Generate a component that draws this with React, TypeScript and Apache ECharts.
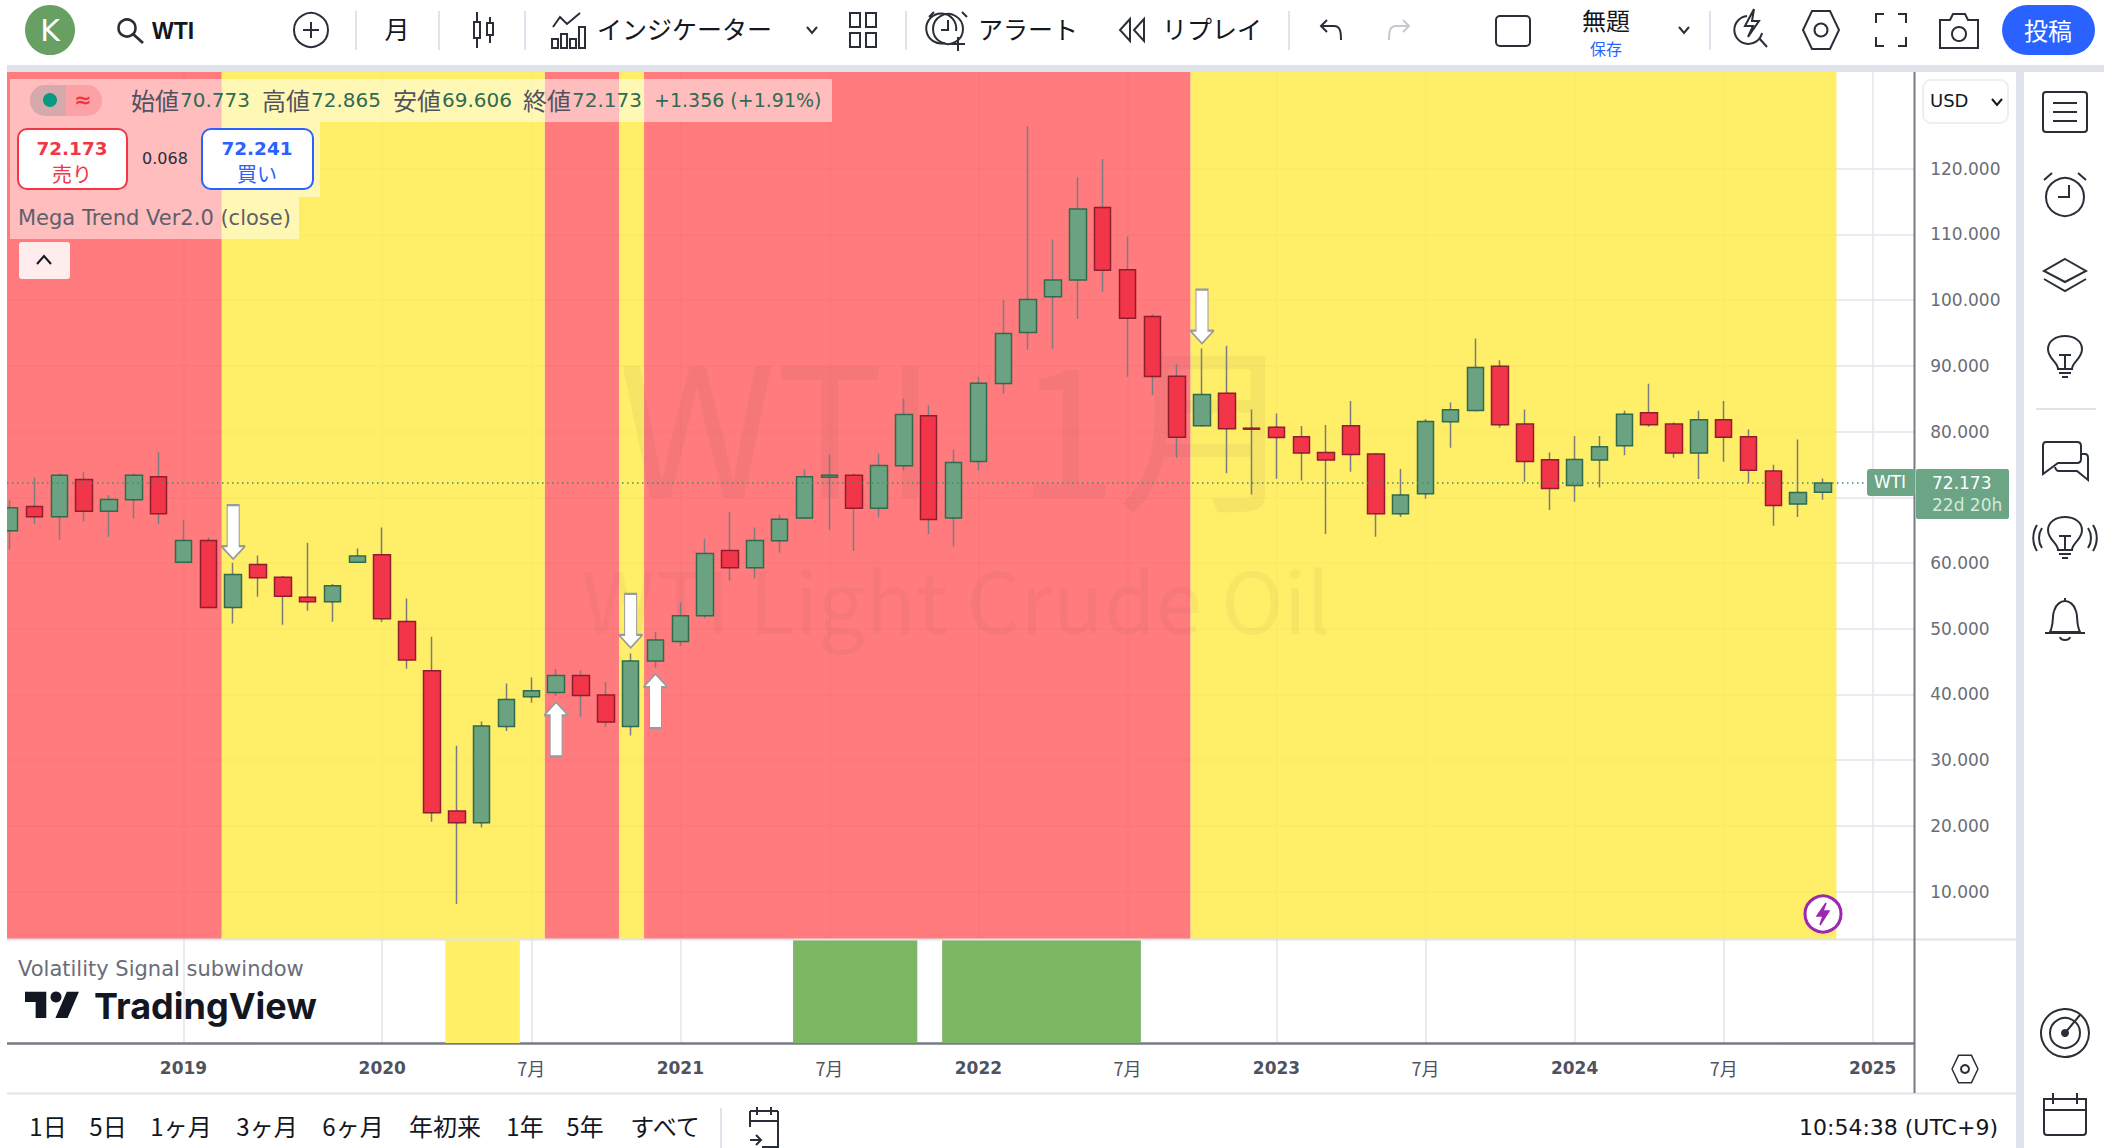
import React, { useEffect, useRef } from "react";
import * as echarts from "echarts";

// ---------- data ----------
const opens = [64.9,68.6,67.03,72.71,67.89,69.62,73.11,60.13,63.43,53.24,59.78,57.85,54.81,54.1,60.13,61.25,51.11,43.6,22.26,20.49,35.14,39.65,40.31,42.9,39.91,35.14,45.08,48.07,51.97,61.91,59.27,63.38,66.83,73.06,73.37,68.35,74.79,82.39,66.83,75.44,87.31,95.06,100.49,103.07,114.08,104.6,97.5,88.42,80.87,85.84,80.51,80.67,79.2,76.82,80.88,76.57,67.49,70.54,81.49,83.21,89.95,81.13,75.71,71.8,75.66,77.83,82.85,81.13,76.72,81.79,79.2,73.98,68.96,70.773];
const closes = [68.4,67.03,73.37,67.89,69.67,73.37,67.49,63.43,53.24,58.26,57.75,54.96,54.1,56.54,61.05,51.52,45.23,22.01,20.49,35.19,39.25,40.56,42.9,39.86,35.8,45.08,48.27,51.97,61.45,59.27,63.43,66.67,73.11,73.37,68.35,74.84,82.59,66.62,75.29,87.36,94.91,100.08,103.07,113.87,104.54,97.24,88.37,79.15,85.63,80.41,80.36,79.1,76.72,75.66,76.52,67.49,70.33,81.54,83.31,89.75,81.03,75.45,71.35,75.76,77.68,82.65,81.03,76.72,81.79,79.15,74.13,68.76,70.74,72.173];
const lows = [62.06,65.9,63.58,66.37,63.99,66.78,65.91,60.13,53.24,50.81,54.86,50.6,52.73,51.06,60.13,51.01,43.91,20.64,8.12,19.78,34.43,38.74,39.81,36.61,35.09,33.77,44.11,47.36,51.6,57.29,57.7,61.6,66.83,65.05,61.81,66.98,74.13,64.39,62.47,74.08,85.74,92.43,92.63,97.14,101.25,88.32,85.53,76.0,80.87,73.67,70.43,72.81,72.56,64.4,73.88,63.99,66.99,69.77,77.53,83.21,80.57,72.36,68.05,69.32,71.5,76.41,80.72,76.01,72.77,75.4,72.21,65.67,66.99,69.606];
const highs = [69.56,73.0,73.62,73.82,70.33,73.62,76.87,66.52,63.89,60.03,61.15,58.01,63.08,56.8,62.21,65.41,54.61,48.78,32.2,35.9,41.68,42.59,43.86,43.66,41.88,46.24,49.49,54.0,63.68,67.79,65.41,67.33,74.28,76.46,73.62,76.66,85.03,84.01,77.27,88.32,99.98,126.45,109.21,118.69,121.48,109.67,97.8,90.25,92.63,93.04,83.35,82.75,80.83,80.98,84.63,76.62,74.29,81.89,84.43,94.16,90.86,83.36,76.82,79.31,79.31,83.16,87.26,81.38,83.16,84.63,80.32,74.95,78.8,72.865];

const priceTicks = [120,110,100,90,80,70,60,50,40,30,20,10];
const priceLabels = priceTicks.filter((v) => v !== 70);
const timeTickIndex = [7,15,21,27,33,39,45,51,57,63,69,75];
const timeTickLabel = ["2019","2020","7月","2021","7月","2022","7月","2023","7月","2024","7月","2025"];
const lastPrice = 72.173;

// regime colouring, as [first bar, last bar]
const redBars = [[-1,8],[22,24],[26,47]];
const yellowBars = [[9,21],[25,25],[48,73]];
const signalYellowBars = [[18,20]];
const signalGreenBars = [[32,36],[38,45]];

// signal arrows: [bar, price at arrow centre]
const sellArrows = [[9,64.7],[25,51.2],[48,97.5]];
const buyArrows = [[22,34.7],[26,39.0]];

const timeframes = [["1日",48],["5日",108],["1ヶ月",181],["3ヶ月",267],["6ヶ月",353],["年初来",445],["1年",525],["5年",585],["すべて",665]];

// ---------- helpers ----------
const X_MIN = -0.105, X_MAX = 76.67;
const JP = '"Noto Sans CJK JP", sans-serif';
const LAT = '"DejaVu Sans", sans-serif';
const INK = "#2a2e39";

const paths: Record<string, string> = {
  candles: "M-9,-8 h6 v16 h-6 z M-6,-18 v10 M-6,8 v10 M4,-7 h6 v12 h-6 z M7,-13 v6 M7,5 v8",
  indic: "M-15,-3 L-8,-13 L-1,-6 L12,-17 M-16,18 v-9 h6 v9 z M-7,18 v-14 h6 v14 z M2,18 v-9 h6 v9 z M11,18 v-21 h6 v21 z",
  chev: "M-5,-3 L0,3 L5,-3",
  grid4: "M-13,-17 h10 v14 h-10 z M3,-17 h10 v14 h-10 z M-13,3 h10 v14 h-10 z M3,3 h10 v14 h-10 z",
  alarm: "M-14,-17 L-19,-12 M14,-17 L19,-12 M0,-9 V1 H-7 M8,2 A15,15 0 1 0 -3,14 M10,8 V22 M3,15 H17",
  replay: "M-3,-11 L-13,0 L-3,11 Z M11,-11 L1,0 L11,11 Z",
  undo: "M-4,-10 L-10,-4 L-4,2 M-10,-4 H3 C9,-4 10,1 10,10",
  redo: "M4,-10 L10,-4 L4,2 M10,-4 H-3 C-9,-4 -10,1 -10,10",
  snap: "M-3,-13 A14,14 0 1 0 12,4 M9,9 L17,18 M4,-20 L-5,-3 H3 L-2,8 L9,-8 H2 Z",
  hex: "M-9,-19 H9 L18,0 L9,19 H-9 L-18,0 Z",
  full: "M-15,-7 V-16 H-7 M7,-16 H15 V-7 M15,7 V16 H7 M-7,16 H-15 V7",
  camera: "M-19,-11 H-9 L-6,-17 H6 L9,-11 H19 V17 H-19 Z",
  list: "M-19,-20 H19 Q22,-20 22,-17 V17 Q22,20 19,20 H-19 Q-22,20 -22,17 V-17 Q-22,-20 -19,-20 Z M-12,-9 H12 M-12,0 H12 M-12,9 H12",
  clock: "M-13,-21 L-21,-14 M13,-21 L21,-14 M4,-9 V3 H-7",
  layers: "M0,-17 L21,-5 L0,6 L-21,-5 Z M-21,3 L0,15 L21,3",
  bulb: "M-7,12 C-7,5 -17,2 -17,-8 C-17,-16 -9,-21 0,-21 C9,-21 17,-16 17,-8 C17,2 7,5 7,12 Z M-6,16 H6 M-3,20 H3 M0,12 V-2 M-6,-2 H6",
  waves: "M-23,-10 C-27,-4 -27,4 -23,10 M-28,-13 C-33,-5 -33,5 -28,13 M23,-10 C27,-4 27,4 23,10 M28,-13 C33,-5 33,5 28,13",
  chat: "M-19,-20 H12 Q16,-20 16,-16 V-3 Q16,1 12,1 H-7 L-22,12 V-16 Q-22,-20 -19,-20 Z M16,-8 H20 Q23,-8 23,-4 V18 L12,9 H-6 Q-9,9 -10,5",
  bell: "M-15,13 C-11,5 -13,-3 -11,-8 C-9,-15 -4,-18 0,-18 C4,-18 9,-15 11,-8 C13,-3 11,5 15,13 Z M-20,14 H20 M-5,18 C-4,22 4,22 5,18 M0,-18 V-21",
  radar: "M0,0 L15,-18",
  calendar: "M-21,-14 H21 V19 Q21,22 18,22 H-18 Q-21,22 -21,19 Z M-21,-3 H21 M-12,-20 V-9 M12,-20 V-9",
  calgo: "M-14,-16 H14 M-14,-6 H14 M-7,-20 V-12 M7,-20 V-12 M-14,-16 V0 M14,-16 V20 H-2 M-14,13 H-4 M-8,8 L-3,13 L-8,18",
  bolt: "M3,-11 L-6,2 H0 L-3,11 L6,-3 H0 Z",
  up: "M-7,4 L0,-4 L7,4",
  tvT: "M14,22 H7 V11 H0 V4 H14 Z M28,22 H20 L27.5,4 H35.5 Z",
};
Object.keys(paths).forEach((k) => {
  echarts.graphic.registerShape("i_" + k, echarts.graphic.extendPath(paths[k], {}));
});

const icon = (k: string, x: number, y: number, stroke = INK, lineWidth = 2, fill = "none", z = 60) => ({
  type: "i_" + k, x, y, z, silent: true, style: { stroke, lineWidth, fill },
});
const txt = (x: number, y: number, text: string, size: number, fill: string, o: any = {}) => ({
  type: "text", x, y, z: o.z ?? 60, silent: true,
  style: {
    text, fontSize: size, fontFamily: o.family ?? JP, fontWeight: o.weight ?? "normal",
    fill, align: o.align ?? "left", verticalAlign: "middle",
  },
});
const box = (x: number, y: number, w: number, h: number, fill: string, o: any = {}) => ({
  type: "rect", z: o.z ?? 55, silent: true,
  shape: { x, y, width: w, height: h, r: o.r ?? 0 },
  style: { fill, stroke: o.stroke, lineWidth: o.lineWidth ?? 0 },
});
const seg = (x1: number, y1: number, x2: number, y2: number, stroke: string, lineWidth = 1, z = 45) => ({
  type: "line", z, silent: true, shape: { x1, y1, x2, y2 }, style: { stroke, lineWidth },
});
const ring = (cx: number, cy: number, r: number, stroke = INK, lineWidth = 2, fill = "none", z = 60) => ({
  type: "circle", z, silent: true, shape: { cx, cy, r }, style: { stroke, lineWidth, fill },
});
const range = (rs: number[][], color: string, opacity: number) =>
  rs.map(([a, b]) => [
    { xAxis: a < 0 ? X_MIN : a - 0.46, itemStyle: { color, opacity } },
    { xAxis: b + 0.54 },
  ]);

const ARROW_DOWN = "path://M6,0 H18 V41 H24 L12,54 L0,41 H6 Z";
const ARROW_UP = "path://M12,0 L24,13 H18 V54 H6 V13 H0 Z";

export default function App() {
  const ref = useRef<HTMLDivElement>(null);
  useEffect(() => {
    document.body.style.margin = "0";
    document.body.style.background = "#ffffff";
    const chart = echarts.init(ref.current!, null, { renderer: "svg" });
    const GUT = "#e0e3eb";
    const idx = opens.map((_, i) => i);
    const full = idx.map((i) => [i, opens[i], closes[i], lows[i], highs[i]]);
    const bodies = idx.map((i) => [i, opens[i], closes[i], Math.min(opens[i], closes[i]), Math.max(opens[i], closes[i])]);
    const xBase = {
      type: "value", min: X_MIN, max: X_MAX, scale: true,
      axisTick: { show: false, customValues: timeTickIndex },
      splitLine: { show: true, lineStyle: { color: "#e3e5eb", width: 1.5 } },
    };
    const elements: any[] = [
      // watermark between the regime colours and the candles
      txt(618, 419, "WTI  1月", 180, "rgba(60,55,70,0.05)", { z: 1.5 }),
      txt(956, 597, "WTI Light Crude Oil", 84, "rgba(60,55,70,0.04)", { align: "center", z: 1.5 }),
      // frame
      box(0, 65, 2104, 7, GUT, { z: 40 }),
      box(0, 65, 7, 1083, "#ffffff", { z: 40 }),
      box(2016, 65, 8, 1083, GUT, { z: 40 }),
      seg(7, 939.5, 2016, 939.5, GUT, 2),
      seg(7, 1093.5, 2016, 1093.5, GUT, 2),
      seg(1914.5, 72, 1914.5, 1093, "#787b86", 2),
      // top toolbar
      ring(50, 30, 25, "#689f63", 0, "#689f63"),
      txt(50, 30, "K", 30, "#ffffff", { align: "center", family: LAT }),
      ring(127, 28, 8.5, INK, 2.6), seg(133, 34, 143, 43, INK, 2.8, 60),
      txt(152, 31, "WTI", 23, "#131722", { family: '"Liberation Sans"', weight: "bold" }),
      ring(311, 30, 17), seg(303, 30, 319, 30, INK, 2, 60), seg(311, 22, 311, 38, INK, 2, 60),
      seg(356, 11, 356, 50, GUT, 2), seg(439, 11, 439, 50, GUT, 2), seg(525, 11, 525, 50, GUT, 2),
      seg(906, 11, 906, 50, GUT, 2), seg(1289, 11, 1289, 50, GUT, 2), seg(1710, 11, 1710, 50, GUT, 2),
      txt(397, 28, "月", 25, "#131722", { align: "center" }),
      icon("candles", 483, 30), icon("indic", 568, 30),
      txt(597, 28, "インジケーター", 25, "#131722"),
      icon("chev", 812, 30), icon("grid4", 863, 30),
      icon("alarm", 948, 29), ring(948, 29, 15),
      txt(978, 28, "アラート", 25, "#131722"),
      icon("replay", 1133, 30),
      txt(1162, 28, "リプレイ", 25, "#131722"),
      icon("undo", 1331, 30), icon("redo", 1399, 30, "#c5c8d0"),
      box(1496, 16, 34, 30, "none", { z: 60, stroke: INK, lineWidth: 2, r: 4 }),
      txt(1606, 19, "無題", 24, "#131722", { align: "center" }),
      txt(1606, 48, "保存", 16, "#2962ff", { align: "center" }),
      icon("chev", 1684, 30),
      icon("snap", 1750, 29), icon("hex", 1821, 30), ring(1821, 30, 6.5),
      icon("full", 1891, 30), icon("camera", 1959, 31), ring(1959, 34, 7),
      box(2002, 5, 93, 50, "#2962ff", { r: 25 }),
      txt(2048, 29, "投稿", 24, "#ffffff", { align: "center" }),
      // legend overlays
      box(10, 79, 822, 43, "rgba(255,255,255,0.5)"),
      box(10, 122, 310, 75, "rgba(255,255,255,0.5)"),
      box(10, 197, 289, 42, "rgba(255,255,255,0.5)"),
      box(30, 85, 36, 31, "rgba(120,123,134,0.3)", { r: [15, 0, 0, 15] }),
      box(66, 85, 36, 31, "rgba(242,54,69,0.2)", { r: [0, 15, 15, 0] }),
      ring(50, 100, 7, "#089981", 0, "#089981"),
      txt(83, 100, "≈", 21, "#f23645", { align: "center", family: LAT, weight: "bold" }),
      ...[["始値", 131, "70.773", 180], ["高値", 262, "72.865", 311], ["安値", 393, "69.606", 442], ["終値", 523, "72.173", 572]].flatMap(
        ([l, lx, v, vx]: any) => [
          txt(lx, 99, l, 24, "#50535e"),
          txt(vx, 100, v, 20, "#2e6b52", { family: LAT }),
        ]
      ),
      txt(654, 100, "+1.356 (+1.91%)", 19, "#2e6b52", { family: LAT }),
      box(18, 129, 109, 60, "#ffffff", { stroke: "#f23645", lineWidth: 2, r: 9 }),
      txt(72, 148, "72.173", 18.4, "#f23645", { align: "center", family: LAT, weight: "bold" }),
      txt(72, 173, "売り", 20, "#f23645", { align: "center" }),
      txt(165, 158, "0.068", 16, "#2a2e39", { align: "center", family: LAT }),
      box(202, 129, 111, 60, "#ffffff", { stroke: "#2962ff", lineWidth: 2, r: 9 }),
      txt(257, 148, "72.241", 18.4, "#2962ff", { align: "center", family: LAT, weight: "bold" }),
      txt(257, 173, "買い", 20, "#2962ff", { align: "center" }),
      txt(18, 218, "Mega Trend Ver2.0 (close)", 21, "#5d606b", { family: LAT }),
      box(19, 242, 51, 37, "rgba(255,245,245,0.92)", { r: 3 }),
      icon("up", 44, 260, "#131722", 2),
      // price tags
      box(1867, 469, 48, 27, "#6ba585", { r: 3 }),
      txt(1890, 482, "WTI", 17, "#ffffff", { align: "center", family: LAT }),
      box(1916, 469, 93, 50, "#6ba585", { r: 2 }),
      txt(1932, 483, "72.173", 17, "#ffffff", { family: LAT }),
      txt(1932, 505, "22d 20h", 17, "#d5e8dc", { family: LAT }),
      // currency
      box(1923, 80, 85, 43, "#ffffff", { stroke: "#eceef2", lineWidth: 2, r: 8 }),
      txt(1930, 100, "USD", 18, "#131722", { family: LAT }),
      icon("chev", 1997, 102, "#131722"),
      // sub pane texts
      txt(18, 969, "Volatility Signal subwindow", 21, "#6a6d78", { family: LAT }),
      { type: "i_tvT", x: 25, y: 986, z: 60, silent: true, scaleX: 1.52, scaleY: 1.45, style: { fill: "#131722" } },
      ring(56, 997, 5.5, "#131722", 0, "#131722"),
      txt(94, 1006, "TradingView", 36, "#131722", { family: '"Inter"', weight: 700 }),
      // lightning badge
      ring(1823, 914, 18, "#9c27b0", 3, "#ffffff"),
      icon("bolt", 1823, 914, "#9c27b0", 1.5, "#9c27b0"),
      // axis settings
      { ...icon("hex", 1965, 1069, INK, 2), scaleX: 0.72, scaleY: 0.72 },
      ring(1965, 1069, 4),
      // bottom bar
      ...timeframes.map(([t, x]: any) => txt(x, 1125, t, 24, "#131722", { align: "center" })),
      seg(721, 1108, 721, 1148, GUT, 2),
      icon("calgo", 764, 1127),
      txt(1998, 1127, "10:54:38 (UTC+9)", 22, "#131722", { align: "right", family: LAT }),
      // right toolbar
      icon("list", 2065, 112), icon("clock", 2065, 194), ring(2065, 197, 19),
      icon("layers", 2065, 276), icon("bulb", 2065, 357),
      seg(2036, 409, 2096, 409, GUT, 2),
      icon("chat", 2065, 462), icon("bulb", 2065, 538), icon("waves", 2065, 538),
      icon("bell", 2065, 619),
      ring(2065, 1033, 24), ring(2065, 1033, 15), ring(2065, 1033, 4, INK, 0, INK), icon("radar", 2065, 1033),
      icon("calendar", 2065, 1113),
    ];

    chart.setOption({
      animation: false,
      backgroundColor: "#ffffff",
      tooltip: { show: false },
      grid: [
        { left: 7, top: 72, width: 1907.2, height: 867 },
        { left: 7, top: 940, width: 1907.2, height: 103 },
      ],
      xAxis: [
        { ...xBase, gridIndex: 0, axisLine: { show: false }, axisLabel: { show: false, customValues: timeTickIndex } },
        {
          ...xBase, gridIndex: 1,
          axisLine: { show: true, onZero: false, lineStyle: { color: "#787b86", width: 2.5 } },
          axisLabel: {
            show: true, margin: 16, customValues: timeTickIndex, hideOverlap: false,
            showMinLabel: true, showMaxLabel: true,
            formatter: (v: number) => {
              const l = timeTickLabel[timeTickIndex.indexOf(Math.round(v))] ?? "";
              return l.includes("月") ? `{m|${l}}` : `{y|${l}}`;
            },
            rich: {
              y: { fontFamily: LAT, fontSize: 17, fontWeight: "bold", color: "#50535e" },
              m: { fontFamily: JP, fontSize: 18, color: "#50535e", padding: [0, 0, 4, 0] },
            },
          },
        },
      ],
      yAxis: [
        {
          type: "value", gridIndex: 0, min: 2.8, max: 134.7, position: "right", scale: true,
          axisLine: { show: false },
          axisTick: { show: false, customValues: priceTicks },
          splitLine: { show: true, lineStyle: { color: "#e3e5eb", width: 1.5 } },
          axisLabel: {
            margin: 16, customValues: priceLabels, fontFamily: LAT, fontSize: 17, color: "#6a6d78",
            formatter: (v: number) => v.toFixed(3),
          },
        },
        {
          type: "value", gridIndex: 1, min: 0, max: 1, position: "right",
          axisLine: { show: false }, axisTick: { show: false }, axisLabel: { show: false }, splitLine: { show: false },
        },
      ],
      series: [
        {
          type: "candlestick", name: "wicks", xAxisIndex: 0, yAxisIndex: 0, z: 2, clip: true,
          encode: { x: 0, y: [1, 2, 3, 4] }, barWidth: 2,
          data: full,
          itemStyle: { color: "#7b7b80", color0: "#7b7b80", borderColor: "#7b7b80", borderColor0: "#7b7b80", borderWidth: 1.5 },
          markArea: {
            silent: true,
            data: [...range(redBars, "#ff5e60", 0.82), ...range(yellowBars, "#ffea47", 0.82)],
          },
        },
        {
          type: "candlestick", name: "bodies", xAxisIndex: 0, yAxisIndex: 0, z: 3, clip: true,
          encode: { x: 0, y: [1, 2, 3, 4] }, barWidth: 17,
          data: bodies,
          itemStyle: { color: "#6ba382", color0: "#f23548", borderColor: "#2f6b4c", borderColor0: "#8f1f2e", borderWidth: 1.5 },
          markLine: {
            silent: true, symbol: "none", z: 4,
            label: { show: false },
            lineStyle: { type: [1.5, 3.5], color: "#3f8f6a", width: 1.5 },
            data: [[{ coord: [X_MIN, lastPrice] }, { coord: [(1867 - 9.6) / 24.84, lastPrice] }]],
          },
          markPoint: {
            silent: true, z: 5, symbolSize: [24, 54], label: { show: false },
            itemStyle: { color: "#ffffff", borderColor: "#9a9a9a", borderWidth: 1.5 },
            data: [
              ...sellArrows.map(([i, v]) => ({ coord: [i, v], symbol: ARROW_DOWN })),
              ...buyArrows.map(([i, v]) => ({ coord: [i, v], symbol: ARROW_UP })),
            ],
          },
        },
        {
          type: "line", name: "Volatility Signal", xAxisIndex: 1, yAxisIndex: 1, z: 2, showSymbol: false,
          data: [[0, 0]], lineStyle: { opacity: 0 },
          markArea: {
            silent: true,
            data: [...range(signalYellowBars, "#fff066", 1), ...range(signalGreenBars, "#7cb563", 1)],
          },
        },
      ],
      graphic: { elements },
    });
    return () => chart.dispose();
  }, []);
  return <div ref={ref} style={{ position: "absolute", left: 0, top: 0, width: 2104, height: 1148 }} />;
}
